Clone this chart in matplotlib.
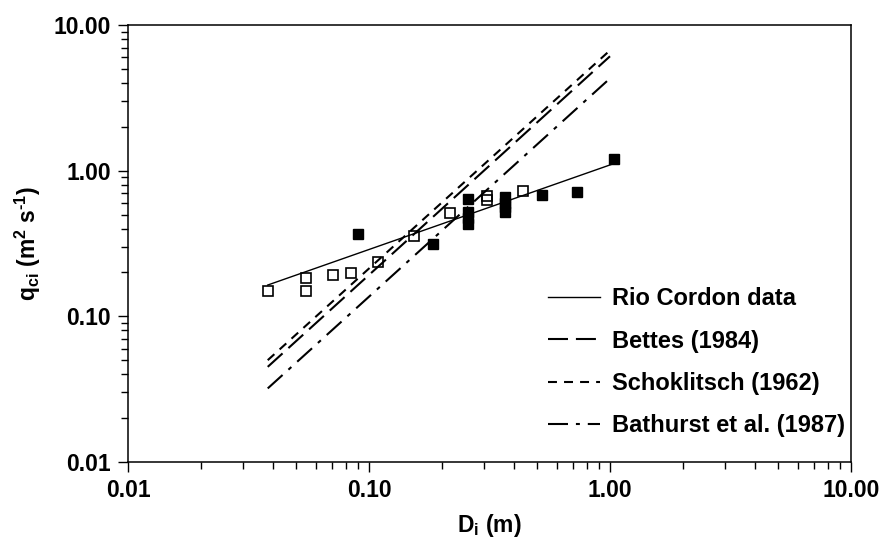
import numpy as np
import matplotlib
matplotlib.use("Agg")
import matplotlib.pyplot as plt
from matplotlib.ticker import FixedLocator, FuncFormatter, LogLocator, NullFormatter

plt.rcParams['font.family'] = ['Liberation Sans', 'DejaVu Sans']
plt.rcParams['font.weight'] = 'bold'
plt.rcParams['mathtext.fontset'] = 'custom'
plt.rcParams['mathtext.bf'] = 'Liberation Sans:bold'
plt.rcParams['mathtext.rm'] = 'Liberation Sans:bold'
plt.rcParams['mathtext.default'] = 'bf'

# field data
open_x = [0.038, 0.055, 0.055, 0.071, 0.084, 0.109, 0.153, 0.217, 0.310, 0.310, 0.435]
open_y = [0.150, 0.182, 0.150, 0.191, 0.197, 0.237, 0.356, 0.514, 0.670, 0.630, 0.721]
filled_x = [0.090, 0.184, 0.258, 0.258, 0.258, 0.258, 0.366, 0.366, 0.366, 0.366, 0.521, 0.728, 1.04]
filled_y = [0.365, 0.312, 0.635, 0.520, 0.470, 0.430, 0.660, 0.600, 0.560, 0.520, 0.680, 0.717, 1.21]

# curve end points
rio_x = [0.038, 1.04]
rio_y = [0.164, 1.12]
bettes_x = [0.038, 1.0]
bettes_y = [0.045, 6.1]
schok_x = [0.038, 1.0]
schok_y = [0.050, 6.7]
bath_x = [0.038, 1.0]
bath_y = [0.032, 4.3]

tick_vals = [0.01, 0.1, 1.0, 10.0]

fig = plt.figure(figsize=(8.85, 5.41), dpi=100)
ax = fig.add_axes([128 / 885, (541 - 462) / 541, 723 / 885, 437 / 541])

ax.plot(rio_x, rio_y, color='black', lw=1.0, label='Rio Cordon data')
ax.plot(bettes_x, bettes_y, color='black', lw=1.5, dashes=(9.6, 3.8), label='Bettes (1984)')
ax.plot(schok_x, schok_y, color='black', lw=1.5, dashes=(4.3, 3.4), label='Schoklitsch (1962)')
ax.plot(bath_x, bath_y, color='black', lw=1.5, dashes=(9.6, 3.8, 1.9, 3.8), label='Bathurst et al. (1987)')

ax.plot(open_x, open_y, 's', ms=6.5, mfc='none', mec='black', mew=1.2, ls='none')
ax.plot(filled_x, filled_y, 's', ms=6.5, mfc='black', mec='black', ls='none')

ax.set_xscale('log')
ax.set_yscale('log')
ax.set_xlim(0.01, 10)
ax.set_ylim(0.01, 10)

fmt = FuncFormatter(lambda v, p: f"{v:.2f}")
for axis in (ax.xaxis, ax.yaxis):
    axis.set_major_locator(FixedLocator(tick_vals))
    axis.set_major_formatter(fmt)
    axis.set_minor_locator(LogLocator(base=10, subs=np.arange(2, 10)))
    axis.set_minor_formatter(NullFormatter())

ax.tick_params(which='major', direction='out', length=7.5, width=1.0, labelsize=16.5, pad=5)
ax.tick_params(which='minor', direction='out', length=5, width=1.0)
for sp in ax.spines.values():
    sp.set_linewidth(1.1)

ax.set_xlabel('D$_i$ (m)', fontsize=16.5, fontweight='bold')
ax.set_ylabel('q$_{ci}$ (m$^2$ s$^{\\text{-1}}$)', fontsize=16.5, fontweight='bold')
ax.xaxis.set_label_coords(0.5, -0.115)
ax.yaxis.set_label_coords(-0.118, 0.5)

leg = ax.legend(loc='upper left', bbox_to_anchor=(0.581, 0.40), frameon=False,
                fontsize=17, handlelength=2.2, handletextpad=0.5,
                labelspacing=0.82, borderpad=0, borderaxespad=0)

fig.savefig('out.png', dpi=100)
